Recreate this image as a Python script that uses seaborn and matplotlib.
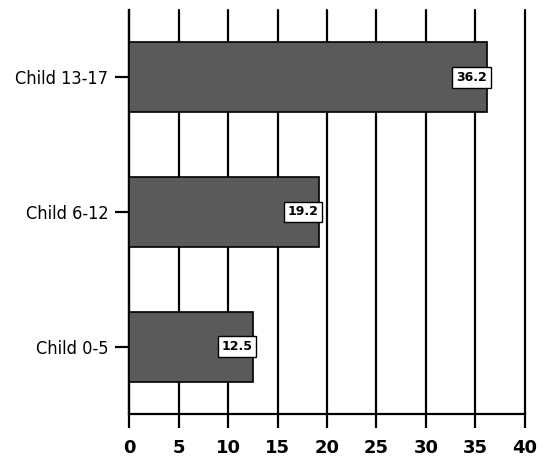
import pandas as pd
import seaborn as sns
import matplotlib.pyplot as plt

# data
groups = ['Child 13-17', 'Child 6-12', 'Child 0-5']
values = [36.2, 19.2, 12.5]
x_ticks = [0, 5, 10, 15, 20, 25, 30, 35, 40]

df = pd.DataFrame({'group': groups, 'value': values})

sns.set_style('white')
plt.rcParams['font.family'] = ['DejaVu Sans']
plt.rcParams['text.color'] = 'black'
plt.rcParams['xtick.color'] = 'black'
plt.rcParams['ytick.color'] = 'black'

fig = plt.figure(figsize=(5.45, 4.58), dpi=100)
ax = fig.add_axes([0.2367, 0.0961, 0.7266, 0.8821])

sns.barplot(data=df, x='value', y='group', order=groups, color='#5a5a5a',
            edgecolor='black', linewidth=1.2, width=0.52, ax=ax, zorder=3,
            saturation=1)

ax.set_xlim(0, 40)
ax.set_xticks(x_ticks)
ax.grid(axis='x', color='black', linewidth=1.6, zorder=0)
for gl in ax.get_xgridlines():
    gl.set_clip_on(False)
ax.set_axisbelow(True)
for side in ['top', 'right']:
    ax.spines[side].set_visible(False)
for side in ['left', 'bottom']:
    ax.spines[side].set_color('black')
    ax.spines[side].set_linewidth(1.6)
ax.tick_params(axis='x', direction='out', length=10, width=1.6, color='black',
               pad=8, bottom=True)
ax.tick_params(axis='y', direction='out', length=10, width=1.6, color='black',
               pad=5, left=True)
ax.set_xlabel('')
ax.set_ylabel('')
for lab in ax.get_xticklabels():
    lab.set_fontweight('heavy')
    lab.set_fontsize(13)
for lab in ax.get_yticklabels():
    lab.set_fontsize(13)
    lab.set_fontstretch('condensed')

# boxed value labels at the end of each bar
for i, v in enumerate(values):
    ax.text(v - 0.05, i, f'{v}', ha='right', va='center', fontsize=9,
            fontweight='bold', zorder=5,
            bbox=dict(boxstyle='square,pad=0.3', facecolor='white',
                      edgecolor='black', linewidth=1))

fig.savefig('out.png', dpi=100)
